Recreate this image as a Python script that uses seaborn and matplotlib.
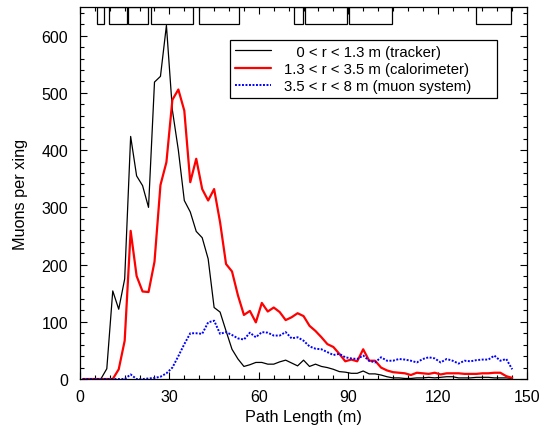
import numpy as np
import pandas as pd
import seaborn as sns
import matplotlib
matplotlib.use("Agg")
import matplotlib.pyplot as plt
from matplotlib.patches import Rectangle
from matplotlib.ticker import MultipleLocator

# ---- data ----
path_length = list(range(1, 146, 2))  # bin centres (m)

tracker = [0, 0, 0, 0, 18, 154, 122, 175, 424, 355, 338, 300, 519, 529, 618,
           470, 400, 312, 292, 258, 247, 210, 125, 117, 84, 52, 35, 22, 25, 29,
           29, 26, 26, 30, 33, 28, 23, 33, 22, 26, 22, 20, 17, 13, 12, 10, 10,
           14, 9, 9, 7, 4, 2, 2, 1, 1, 2, 2, 3, 2, 3, 4, 4, 2, 2, 2, 3, 3, 3,
           2, 2, 2, 1]

calorimeter = [0, 0, 0, 0, 0, 0, 17, 67, 259, 180, 153, 152, 205, 339, 379,
               488, 506, 469, 344, 385, 332, 312, 332, 274, 201, 188, 146, 112,
               119, 99, 133, 118, 125, 117, 103, 108, 115, 110, 93, 84, 73, 61,
               56, 44, 31, 34, 31, 52, 32, 32, 20, 15, 12, 11, 10, 7, 11, 10, 9,
               11, 8, 10, 10, 10, 9, 9, 9, 10, 10, 11, 11, 5, 2]

muon_system = [0, 0, 0, 0, 0, 0, 0, 0, 8, 0, 0, 1, 2, 4, 10, 20, 40, 61, 80,
               80, 79, 99, 102, 79, 82, 77, 71, 69, 81, 73, 82, 81, 76, 76, 82,
               71, 73, 67, 57, 53, 52, 47, 42, 44, 38, 36, 35, 41, 32, 29, 38,
               32, 32, 35, 34, 32, 29, 35, 38, 36, 29, 35, 32, 27, 32, 31, 33,
               34, 34, 41, 32, 35, 17]

series_labels = ["   0 < r < 1.3 m (tracker)",
                 "1.3 < r < 3.5 m (calorimeter)",
                 "3.5 < r < 8 m (muon system)"]

# detector element outlines along the top (start, end in m)
element_start = [5.6, 9.7, 16.2, 23.9, 39.8, 71.7, 75.4, 90.4, 132.8]
element_end = [8.0, 15.7, 22.7, 38.0, 53.5, 74.7, 89.5, 104.6, 144.5]
element_bottom = 620
element_top = 650

xlabel = "Path Length (m)"
ylabel = "Muons per xing"

# ---- plot ----
sns.set_style("ticks")
plt.rcParams["font.family"] = ["Liberation Sans", "DejaVu Sans"]
plt.rcParams["font.size"] = 11.5
plt.rcParams["text.color"] = "black"
plt.rcParams["axes.labelcolor"] = "black"

fig = plt.figure(figsize=(5.44, 4.27), dpi=100)
ax = fig.add_axes([0.147, 0.110, 0.822, 0.871])

df = pd.DataFrame({"x": path_length, "t": tracker, "c": calorimeter, "m": muon_system})
sns.lineplot(data=df, x="x", y="t", ax=ax, color="black", lw=0.9, label=series_labels[0])
sns.lineplot(data=df, x="x", y="c", ax=ax, color="#ff0000", lw=1.6, label=series_labels[1])
sns.lineplot(data=df, x="x", y="m", ax=ax, color="#0000ff", lw=1.4, linestyle=(0, (1, 0.8)),
             label=series_labels[2])

for s, e in zip(element_start, element_end):
    ax.add_patch(Rectangle((s, element_bottom), e - s, element_top - element_bottom,
                           fill=False, edgecolor="black", lw=0.9, zorder=5, clip_on=True))

ax.set_xlim(0, 150)
ax.set_ylim(0, 650)
ax.xaxis.set_major_locator(MultipleLocator(30))
ax.xaxis.set_minor_locator(MultipleLocator(5))
ax.yaxis.set_major_locator(MultipleLocator(100))
ax.yaxis.set_minor_locator(MultipleLocator(20))
ax.tick_params(which="both", direction="in", top=True, right=True, labelsize=11.5,
               colors="black")
ax.tick_params(axis="x", which="major", pad=7)
ax.tick_params(axis="y", which="major", pad=8.5)
ax.tick_params(which="major", length=5, width=0.8)
ax.tick_params(which="minor", length=3, width=0.8)
for sp in ax.spines.values():
    sp.set_linewidth(0.9)
    sp.set_color("black")
ax.set_xlabel(xlabel, fontsize=11.7, labelpad=4, color="black")
ax.set_ylabel(ylabel, fontsize=11.7, labelpad=10, color="black")

leg = ax.legend(loc="upper left", bbox_to_anchor=(0.336, 0.761, 0.597, 0.150), mode="expand",
                frameon=True, fancybox=False,
                edgecolor="black", framealpha=1, fontsize=10.75, handlelength=2.4,
                borderpad=0.3, labelspacing=0.22, handletextpad=0.9, borderaxespad=0)
leg.get_frame().set_linewidth(0.9)
for t in leg.get_texts():
    t.set_color("black")

fig.savefig("out.png", dpi=100)
